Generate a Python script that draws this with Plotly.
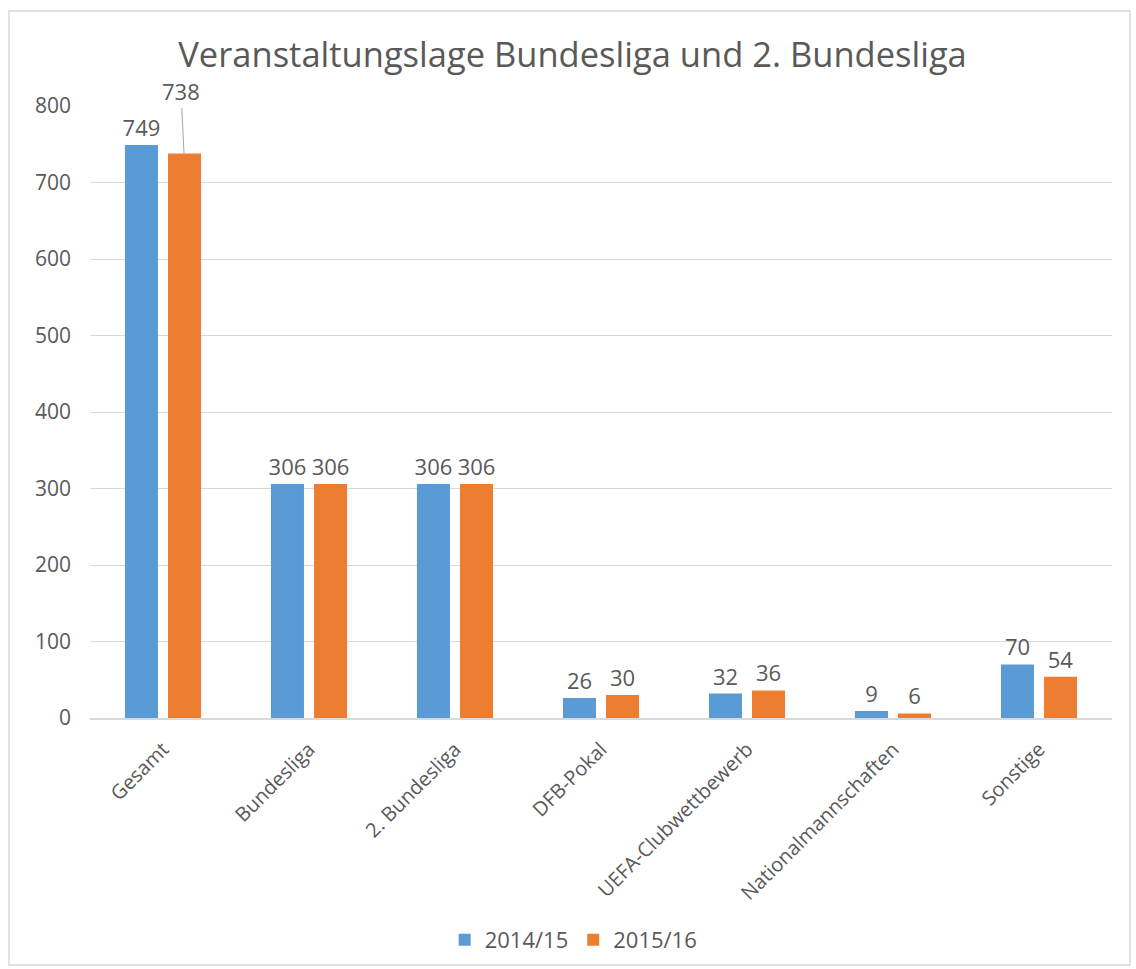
import plotly.graph_objects as go

categories = ["Gesamt", "Bundesliga", "2. Bundesliga", "DFB-Pokal",
              "UEFA-Clubwettbewerb", "Nationalmannschaften", "Sonstige"]
series_names = ["2014/15", "2015/16"]
values_2014 = [749, 306, 306, 26, 32, 9, 70]
values_2015 = [738, 306, 306, 30, 36, 6, 54]
y_ticks = [0, 100, 200, 300, 400, 500, 600, 700, 800]

BLUE = "#5B9BD5"
ORANGE = "#ED7D31"
GRAY = "#595959"
FONT = "Open Sans"

fig = go.Figure()
fig.add_trace(go.Bar(
    x=categories, y=values_2014, name=series_names[0],
    marker=dict(color=BLUE, line=dict(width=0)),
    text=[str(v) for v in values_2014], textposition="outside",
    textfont=dict(family=FONT, size=22, color=GRAY),
    cliponaxis=False, constraintext="none",
))
# the 738 label is drawn with a leader line as an annotation
text_2015 = [str(v) for v in values_2015]
text_2015[0] = ""
fig.add_trace(go.Bar(
    x=categories, y=values_2015, name=series_names[1],
    marker=dict(color=ORANGE, line=dict(width=0)),
    text=text_2015, textposition="outside",
    textfont=dict(family=FONT, size=22, color=GRAY),
    cliponaxis=False, constraintext="none",
))

fig.add_annotation(
    x=categories[0], y=values_2015[0], xref="x", yref="y", xshift=21,
    text=str(values_2015[0]), showarrow=True, arrowhead=0, arrowwidth=1,
    arrowcolor="#A6A6A6", ax=-3, ay=-62,
    font=dict(family=FONT, size=22, color=GRAY),
)

# outer chart border
fig.add_shape(type="rect", xref="paper", yref="paper",
              x0=-0.0793, x1=1.0176, y0=-0.4036, y1=1.1552,
              line=dict(color="#D9D9D9", width=1.5), fillcolor="rgba(0,0,0,0)",
              layer="below")

fig.update_layout(
    width=1136, height=969,
    paper_bgcolor="white", plot_bgcolor="white",
    margin=dict(l=90, r=24, t=106, b=251),
    barmode="group", bargap=0.41, bargroupgap=0.233,
    title=dict(text="Veranstaltungslage Bundesliga und 2. Bundesliga",
               x=0.504, xanchor="center", y=0.943, yanchor="middle",
               font=dict(family=FONT, size=34.5, color=GRAY)),
    font=dict(family=FONT, color=GRAY),
    legend=dict(orientation="h", xref="container", yref="container",
                x=0.505, xanchor="center", y=0.03, yanchor="middle",
                font=dict(family=FONT, size=22, color=GRAY),
                itemwidth=30, traceorder="normal"),
    showlegend=True,
)
fig.update_xaxes(
    tickangle=-45, tickfont=dict(family=FONT, size=20, color=GRAY),
    showline=True, linecolor="#D9D9D9", linewidth=1.5,
    ticks="", showgrid=False, ticklabelstandoff=10,
)
fig.update_yaxes(
    range=[0, 800], tickvals=y_ticks, ticktext=[str(t) for t in y_ticks],
    tickfont=dict(family=FONT, size=21, color=GRAY),
    showgrid=True, gridcolor="#D9D9D9", gridwidth=1,
    zeroline=False, showline=False, ticks="", ticklabelstandoff=18,
)

fig.write_html("out.html", config={"displayModeBar": False},
               post_script="document.body.style.margin='0';")
